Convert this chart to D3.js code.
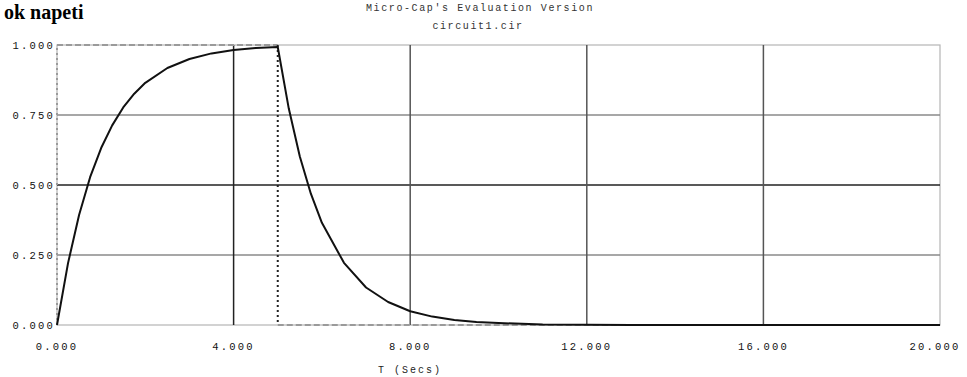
<!DOCTYPE html>
<html><head><meta charset="utf-8">
<script src="https://cdn.jsdelivr.net/npm/d3@7"></script>
<style>
html,body{margin:0;padding:0;background:#fff;overflow:hidden}
text{font-family:"Liberation Mono",monospace}
</style></head>
<body>
<svg id="c" width="967" height="377"></svg>
<script>
// Data
const times = [0,0.25,0.5,0.75,1,1.25,1.5,1.75,2,2.5,3,3.5,4,4.5,5,5.25,5.5,5.75,6,6.5,7,7.5,8,8.5,9,9.5,10,11,12,13,14,15,16,17,18,19,20];
const output = [0,0.221,0.393,0.528,0.632,0.713,0.777,0.826,0.865,0.918,0.950,0.970,0.982,0.989,0.993,0.773,0.602,0.469,0.365,0.222,0.134,0.082,0.049,0.030,0.018,0.011,0.007,0.002,0.001,0,0,0,0,0,0,0,0];
const pulseT = [0,0,5,5,20];
const pulseV = [0,1,1,0,0];
const xTicks = [0,4,8,12,16,20];
const xTickLabels = ["0.000","4.000","8.000","12.000","16.000","20.000"];
const yTicks = [0,0.25,0.5,0.75,1];
const yTickLabels = ["0.000","0.250","0.500","0.750","1.000"];
const titleTop = "Micro-Cap's Evaluation Version";
const titleFile = "circuit1.cir";
const xLabel = "T (Secs)";
const heading = "ok napeti";

const svg = d3.select("#c");
const x = d3.scaleLinear().domain([0,20]).range([57,940]);
const y = d3.scaleLinear().domain([0,1]).range([325,45]);

// heading
svg.append("text").attr("x",4).attr("y",19)
  .style("font-family","'Liberation Serif',serif").style("font-weight","bold").style("font-size","20px")
  .text(heading);

// titles
svg.append("text").attr("x",480).attr("y",11).attr("text-anchor","middle")
  .style("font-size","10px").style("letter-spacing","1.6px").attr("fill","#333").text(titleTop);
svg.append("text").attr("x",478).attr("y",29).attr("text-anchor","middle")
  .style("font-size","10px").style("letter-spacing","1.6px").attr("fill","#333").text(titleFile);

// frame
svg.append("rect").attr("x",x(0)).attr("y",y(1)).attr("width",x(20)-x(0)).attr("height",y(0)-y(1))
  .attr("fill","none").attr("stroke","#b5b5b5").attr("stroke-width",1.2);

// grid
const g = svg.append("g");
g.selectAll(".hg").data(yTicks.filter(d=>d>0&&d<1)).join("line")
  .attr("x1",x(0)).attr("x2",x(20)).attr("y1",d=>y(d)).attr("y2",d=>y(d))
  .attr("stroke",d=>d===0.5?"#222":"#8a8a8a").attr("stroke-width",1.5);
g.selectAll(".vg").data(xTicks.filter(d=>d>0&&d<20)).join("line")
  .attr("x1",d=>x(d)).attr("x2",d=>x(d)).attr("y1",y(0)).attr("y2",y(1))
  .attr("stroke",d=>d===4?"#222":"#555").attr("stroke-width",1.5);

// input pulse
const pulse = pulseT.map((t,i)=>[t,pulseV[i]]);
for(let i=0;i<pulse.length-1;i++){
  const a=pulse[i], b=pulse[i+1];
  const vertical = a[0]===b[0];
  const dark = vertical && a[0]>0;
  svg.append("line").attr("x1",x(a[0])).attr("y1",y(a[1])).attr("x2",x(b[0])).attr("y2",y(b[1]))
    .attr("stroke",dark?"#222":"#9a9a9a").attr("stroke-width",vertical?2:2.2)
    .attr("stroke-dasharray",vertical?"2,3":"6,3");
}

// output curve
svg.append("path").datum(times.map((t,i)=>[t,output[i]]))
  .attr("d",d3.line().x(d=>x(d[0])).y(d=>y(d[1])))
  .attr("fill","none").attr("stroke","#111").attr("stroke-width",2).attr("stroke-linejoin","round");

// tick labels
svg.selectAll(".xl").data(xTicks).join("text")
  .attr("x",(d,i)=>x(d)+(i===xTicks.length-1?-5:0)).attr("y",350).attr("text-anchor","middle")
  .style("font-size","10.5px").style("letter-spacing","2.2px").attr("fill","#111")
  .text((d,i)=>xTickLabels[i]);
svg.selectAll(".yl").data(yTicks).join("text")
  .attr("x",55).attr("y",d=>y(d)+4).attr("text-anchor","end")
  .style("font-size","10.5px").style("letter-spacing","2.2px").attr("fill","#111")
  .text((d,i)=>yTickLabels[i]);

svg.append("text").attr("x",410).attr("y",373).attr("text-anchor","middle")
  .style("font-size","10px").style("letter-spacing","2px").attr("fill","#222").text(xLabel);
</script>
</body></html>
